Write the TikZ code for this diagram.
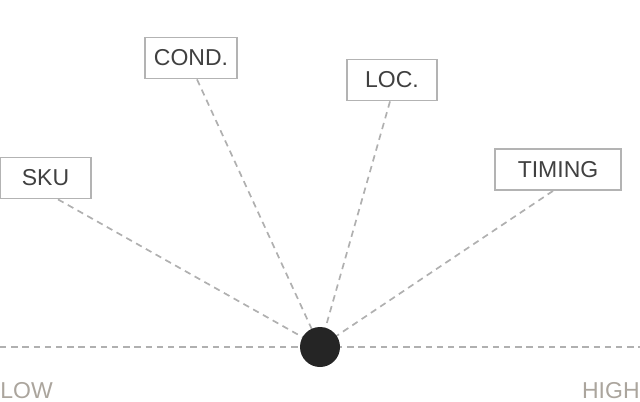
\documentclass[tikz,border=0pt]{standalone}
\usepackage{fontspec}
\setmainfont{Liberation Sans}
\usetikzlibrary{positioning}

\definecolor{boxgray}{HTML}{B3B3B3}
\definecolor{dashgray}{HTML}{B0B0B0}
\definecolor{txtdark}{HTML}{404040}
\definecolor{axisgray}{HTML}{ABA59D}
\definecolor{dotblack}{HTML}{252525}

\begin{document}
\begin{tikzpicture}[x=0.5pt,y=-0.5pt,
                    font=\fontsize{11.5}{13}\selectfont]
  \tikzset{factor/.style={draw=boxgray,line width=0.9pt,fill=white,text=txtdark,
                          minimum height=20.5pt,inner sep=0pt},
           link/.style={draw=dashgray,line width=0.85pt,dash pattern=on 3.2pt off 2.4pt},
           axislabel/.style={text=axisgray,inner sep=0pt}}

	\useasboundingbox (0,0) rectangle (640,401);

	\coordinate (lo) at (0,347);
	\coordinate (hi) at (640,347);
	\coordinate (dot) at (320,347);

	\node[factor,minimum width=45.5pt]	(sku)	 at (45.5,178)  {SKU};
	\node[factor,minimum width=46pt]	(cond)	 at (191,58)    {COND.};
	\node[factor,minimum width=45pt]	(loc)	 at (392,80)    {LOC.};
	\node[factor,minimum width=63pt]	(timing) at (558,169.5) {TIMING};

	\node[axislabel,anchor=base west] (low)  at (0,398)   {LOW};
	\node[axislabel,anchor=base east] (high) at (640,398) {HIGH};

	\path[link]	(lo) -- (hi);
	\path[link]	([xshift=6.25pt]sku.south)    -- (dot);
	\path[link]	([xshift=3pt]cond.south)      -- (dot);
	\path[link]	([xshift=-1pt]loc.south)      -- (dot);
	\path[link]	([xshift=-2.5pt]timing.south) -- (dot);

	\node[circle,fill=dotblack,minimum size=20pt,inner sep=0pt] (ball) at (dot) {};

\end{tikzpicture}
\end{document}
